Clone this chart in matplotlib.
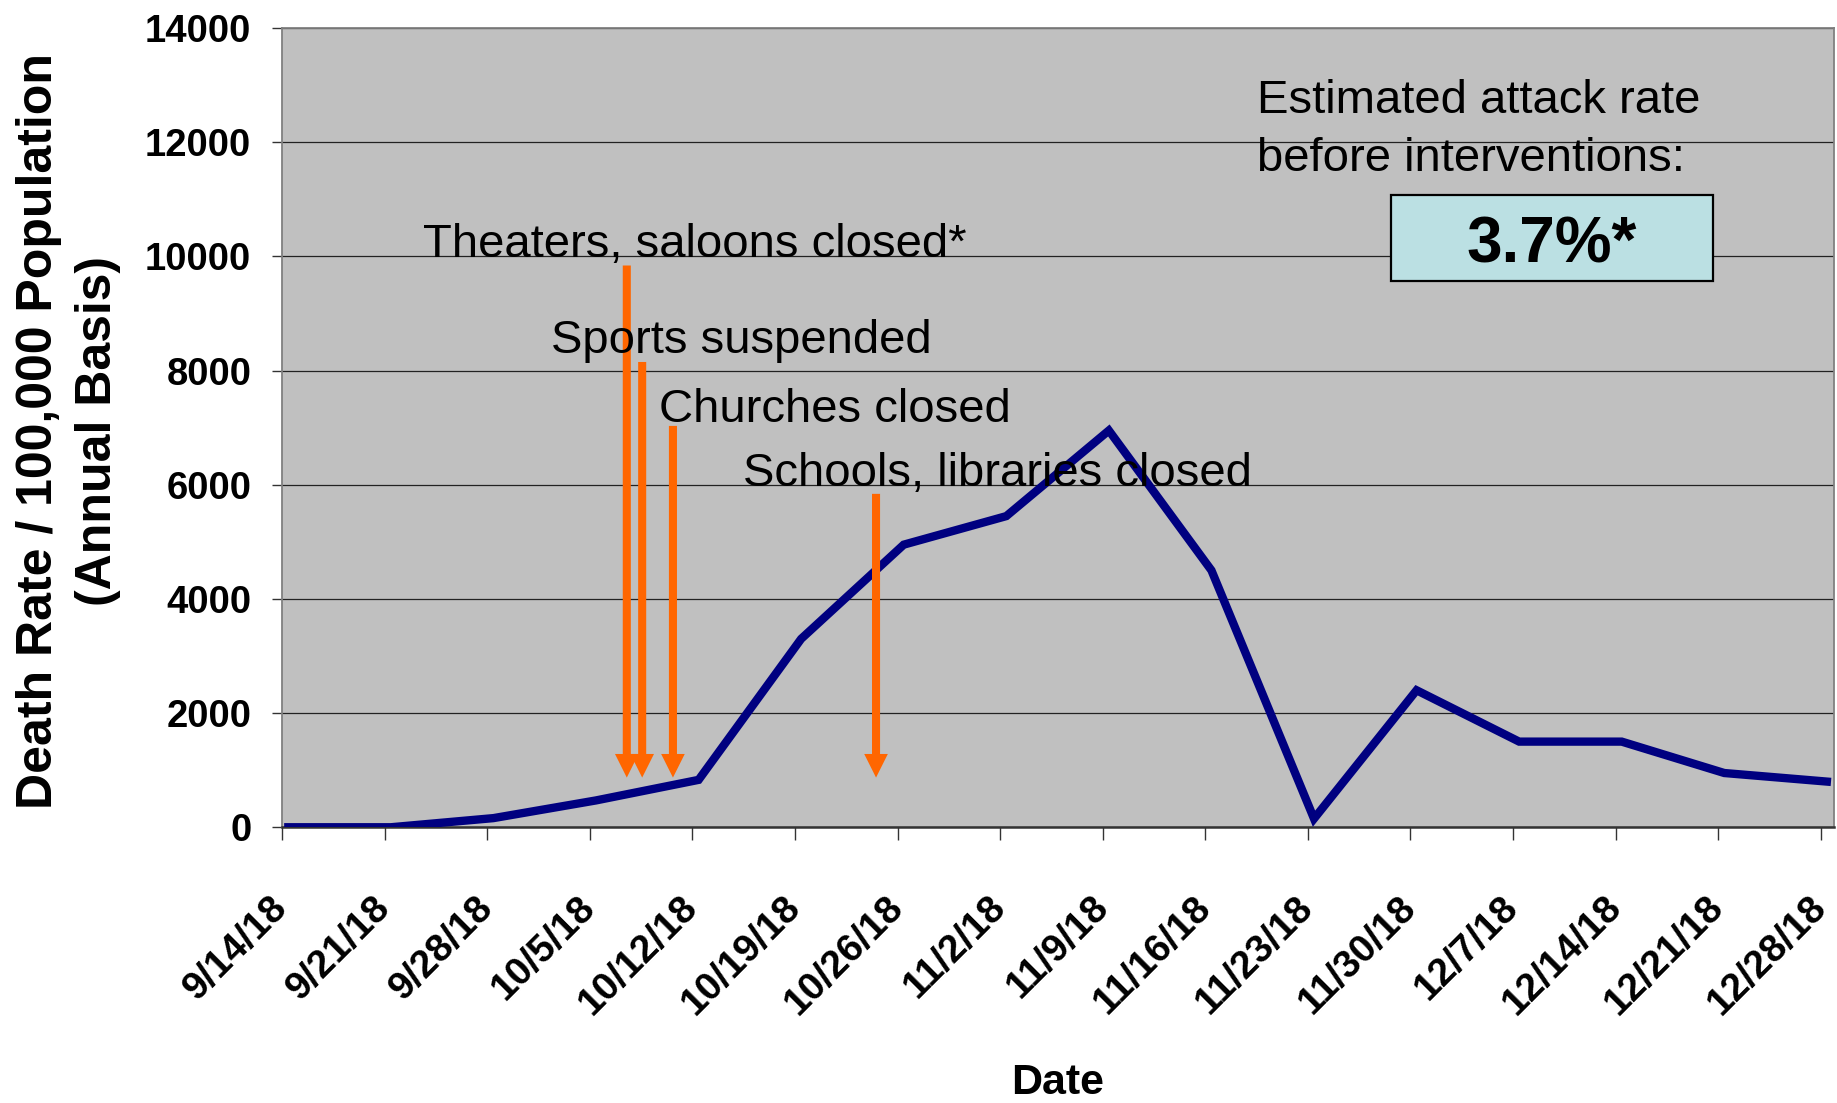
import numpy as np
import matplotlib.pyplot as plt
from matplotlib.patches import Rectangle

plt.rcParams['font.family'] = ['Liberation Sans', 'DejaVu Sans']

# weekly death rate per 100,000 (annual basis)
dates = ['9/14/18', '9/21/18', '9/28/18', '10/5/18', '10/12/18', '10/19/18',
         '10/26/18', '11/2/18', '11/9/18', '11/16/18', '11/23/18', '11/30/18',
         '12/7/18', '12/14/18', '12/21/18', '12/28/18']
death_rate = [0, 0, 160, 470, 830, 3300, 4950, 5450, 6950, 4500, 150, 2400,
              1500, 1500, 950, 800]

# interventions: when (in weeks from 9/14) and label
interventions = ['Theaters, saloons closed*', 'Sports suspended',
                 'Churches closed', 'Schools, libraries closed']
intervention_week = [3.36, 3.51, 3.81, 5.79]
arrow_top = [9840, 8150, 7030, 5840]
arrow_tip = 870
label_pos = [(1.37, 9985), (2.62, 8300), (3.67, 7100), (4.49, 5974)]

attack_rate_text = ['Estimated attack rate', 'before interventions:']
attack_rate = '3.7%*'

x = np.arange(len(dates))

fig = plt.figure(figsize=(18.37, 11.03), dpi=100)
ax = fig.add_axes([0.1536, 0.25, 0.8445, 0.7246])
ax.set_facecolor('#C0C0C0')

ax.plot(x + 0.06, death_rate, color='#000080', lw=6, solid_joinstyle='miter', zorder=3)

# intervention arrows + labels
for wk, top in zip(intervention_week, arrow_top):
    ax.annotate('', xy=(wk, arrow_tip), xytext=(wk, top),
                arrowprops=dict(arrowstyle='simple,head_length=0.85,head_width=0.85,tail_width=0.29',
                                color='#FF6600', lw=0, shrinkA=0, shrinkB=0,
                                mutation_scale=20), zorder=4)
for txt, (lx, ly) in zip(interventions, label_pos):
    ax.text(lx, ly, txt, fontsize=34, ha='left', va='baseline', zorder=5)

# attack rate box
ax.text(9.50, 12511, attack_rate_text[0], fontsize=34, ha='left', va='baseline', zorder=5)
ax.text(9.50, 11500, attack_rate_text[1], fontsize=34, ha='left', va='baseline', zorder=5)
ax.add_patch(Rectangle((10.815, 9560), 3.133, 1507, facecolor='#BBE0E3',
                       edgecolor='black', lw=1.6, zorder=4))
ax.text(12.38, 9892, attack_rate, fontsize=46, fontweight='bold',
        ha='center', va='baseline', zorder=5)

ax.set_xlim(0, 15.125)
ax.set_ylim(0, 14000)
ax.set_yticks(np.arange(0, 14001, 2000))
ax.set_xticks(x)
ax.set_xticklabels(dates, rotation=45, ha='right', va='center',
                   rotation_mode='anchor', fontsize=28, fontweight='bold')
for lab in ax.get_yticklabels():
    lab.set_fontsize(27.5)
    lab.set_fontweight('bold')

ax.tick_params(axis='y', direction='out', length=7.2, width=1, color='#333333', pad=15)
ax.tick_params(axis='x', direction='out', length=9, width=1, color='#333333', pad=45)
ax.grid(axis='y', color='#222222', lw=0.9)
ax.set_axisbelow(True)

for side in ['top', 'right', 'left']:
    ax.spines[side].set_color('#808080')
    ax.spines[side].set_linewidth(1.3)
ax.spines['bottom'].set_color('#333333')
ax.spines['bottom'].set_linewidth(1.8)

fig.text(0.0372, 0.6097, 'Death Rate / 100,000 Population\n(Annual Basis)',
         rotation=90, ha='center', va='center', fontsize=36, fontweight='bold',
         linespacing=1.35)
fig.text(0.576, 0.008, 'Date', ha='center', va='baseline', fontsize=31, fontweight='bold')

fig.savefig('out.png', dpi=100)
